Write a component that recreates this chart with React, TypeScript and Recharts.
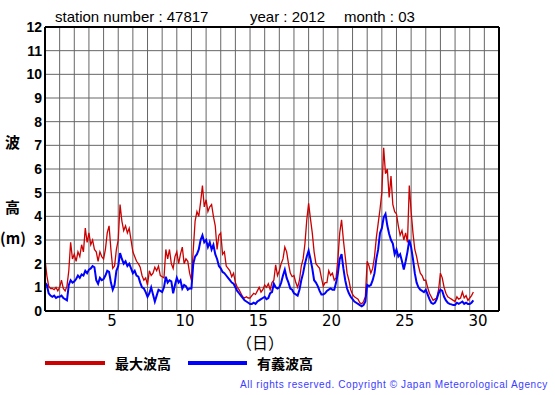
import React from 'react';
import { LineChart, Line, XAxis, YAxis, ReferenceLine } from 'recharts';

// 3-hourly readings starting on day 1 00:00 (8 values per day)
const maxWave: number[] = [
  2.2, 1.5, 1.05, 0.95, 0.95, 0.9, 1.0, 0.85,
  1.0, 1.3, 0.95, 0.85, 1.05, 1.7, 2.9, 2.2,
  2.4, 2.1, 2.5, 2.3, 2.8, 2.5, 3.5, 2.9,
  3.3, 2.8, 3.0, 2.6, 2.5, 2.1, 2.5, 2.3,
  2.2, 2.6, 3.3, 3.6, 2.6, 1.8, 1.9, 2.6,
  3.0, 4.5, 3.8, 3.4, 3.6, 3.3, 3.5, 3.0,
  2.5, 2.3, 2.1, 2.0, 1.85, 1.5, 1.3, 1.4,
  1.1, 1.7, 1.5, 1.6, 1.85, 1.7, 1.9, 1.5,
  1.45, 1.4, 2.6, 2.2, 2.6, 2.0, 1.8, 2.3,
  2.5, 2.0, 2.4, 2.7, 2.0, 2.2, 2.1, 1.6,
  1.3, 2.6, 3.8, 4.2, 4.0, 4.6, 5.3, 4.4,
  4.7, 4.2, 4.4, 4.5, 4.0, 3.6, 2.6, 3.2,
  3.3, 2.4, 2.5, 1.9, 1.8, 1.7, 1.45, 1.6,
  1.2, 1.0, 0.9, 0.75, 0.6, 0.55, 0.6, 0.55,
  0.55, 0.65, 0.75, 0.7, 0.85, 1.0, 0.8, 0.9,
  1.1, 1.0, 1.15, 0.9, 1.2, 1.3, 1.95, 1.5,
  1.7, 2.0, 2.2, 2.7, 2.5, 2.0, 1.6, 1.45,
  1.5, 1.2, 1.0, 1.3, 1.9, 2.2, 2.85, 3.85,
  4.55, 3.9, 3.3, 2.5, 2.0, 1.9, 1.8, 1.4,
  1.05, 1.2, 1.2, 1.7, 1.5, 1.6, 1.3, 1.4,
  2.2, 3.3, 3.85, 3.0, 2.3, 1.6, 1.3, 0.9,
  0.7, 0.6, 0.55, 0.5, 0.35, 0.3, 0.4, 0.6,
  2.1, 1.9, 1.6, 1.8, 2.3, 3.1, 3.7, 4.3,
  5.0, 6.9, 5.8, 6.0, 4.8, 5.7, 4.5, 4.2,
  4.1, 3.6, 3.2, 3.4, 3.0, 3.3, 2.9, 5.3,
  4.2, 3.3, 2.6, 2.3, 1.9, 1.6, 1.5, 1.3,
  1.3, 1.0, 0.75, 0.6, 0.45, 0.5, 0.55, 0.9,
  1.6, 1.4, 1.0, 0.75, 0.6, 0.55, 0.5, 0.45,
  0.4, 0.6, 0.5, 0.55, 0.8, 0.55, 0.65, 0.45,
  0.55, 0.65, 0.8,
];

const sigWave: number[] = [
  1.2, 1.1, 0.75, 0.65, 0.6, 0.65, 0.55, 0.6,
  0.6, 0.65, 0.55, 0.5, 0.45, 1.1, 1.3, 1.2,
  1.25, 1.35, 1.5, 1.4, 1.55, 1.5, 1.7, 1.6,
  1.75, 1.8, 1.9, 1.85, 1.3, 1.15, 1.4, 1.3,
  1.35, 1.5, 1.7, 1.65, 1.2, 0.9, 1.1, 1.7,
  1.9, 2.45, 2.2, 2.0, 2.1, 1.9, 2.0, 1.8,
  1.6, 1.7, 1.5, 1.45, 1.2, 1.0, 0.95, 0.8,
  0.6, 0.75, 1.0, 0.7, 0.4, 0.65, 0.9, 0.85,
  0.8, 1.0, 1.45, 1.2, 1.3, 1.25, 0.75, 1.1,
  1.4, 1.2, 1.3, 0.95, 1.1, 1.05, 0.9, 0.95,
  0.95, 2.0, 2.3, 2.4, 2.6, 3.0, 3.2, 2.9,
  3.0, 2.7, 2.9, 2.6, 2.8, 2.4, 2.2, 1.9,
  1.8, 1.65, 1.6, 1.5, 1.4, 1.3, 1.2, 1.15,
  1.0, 0.85, 0.75, 0.65, 0.55, 0.45, 0.4, 0.35,
  0.3, 0.3, 0.35, 0.3, 0.4, 0.45, 0.5, 0.55,
  0.6, 0.5, 0.55, 0.75, 0.8, 1.15, 1.0, 0.95,
  1.0, 1.2, 1.5, 1.75, 1.4, 1.2, 0.95, 0.9,
  0.75, 0.7, 0.65, 0.9, 1.3, 1.6, 2.0, 2.3,
  2.55, 2.2, 1.8, 1.3, 1.2, 1.05, 0.85, 0.7,
  0.7, 0.75, 0.85, 0.9, 0.95, 0.9, 0.9, 1.2,
  1.6, 2.2, 2.4, 1.8, 1.3, 0.95, 0.75, 0.6,
  0.5, 0.4, 0.35, 0.3, 0.25, 0.2, 0.25, 0.4,
  1.1, 1.05, 1.1, 1.3, 1.6, 2.2, 2.6, 3.3,
  3.5, 3.95, 4.1, 3.6, 3.25, 3.0, 2.85, 2.4,
  2.6, 2.3, 2.4, 2.1, 1.75, 2.1, 2.5, 3.0,
  2.7, 2.2, 1.6, 1.2, 1.0, 0.9, 0.85, 0.8,
  0.9, 0.7, 0.5, 0.35, 0.3, 0.35, 0.5, 0.75,
  0.9, 0.85, 0.6, 0.45, 0.35, 0.3, 0.28, 0.25,
  0.25, 0.35, 0.3, 0.35, 0.4, 0.3, 0.35, 0.3,
  0.3, 0.35, 0.45,
];

const stepsPerDay = 8;
const dayLabels = [5, 10, 15, 20, 25, 30];
const yTicks = [0, 1, 2, 3, 4, 5, 6, 7, 8, 9, 10, 11, 12];
const dayBoundaries = Array.from({ length: 32 }, (_, i) => i + 1);
const seriesNames = ['最大波高', '有義波高'];
const titleParts = ['station number : 47817', 'year : 2012', 'month : 03'];

const data = maxWave.map((v, i) => ({
  t: 1 + i / stepsPerDay,
  max: v,
  sig: sigWave[i],
}));

const sans = '"Liberation Sans", Arial, sans-serif';
const cjk = '"Noto Sans CJK JP", sans-serif';

const XTick = (props: any) => {
  const { x, y, payload } = props;
  return (
    <text x={x + 1} y={y + 13} textAnchor="middle" fontFamily='"DejaVu Sans", sans-serif' fontSize={15} fill="#000">
      {Math.floor(payload.value)}
    </text>
  );
};

const YTick = (props: any) => {
  const { x, y, payload } = props;
  return (
    <text x={x} y={y + 5} textAnchor="end" fontFamily={sans} fontWeight="bold" fontSize={14} fill="#000">
      {payload.value}
    </text>
  );
};

const abs = (left: number, top: number, extra: React.CSSProperties = {}): React.CSSProperties => ({
  position: 'absolute',
  left,
  top,
  whiteSpace: 'nowrap',
  lineHeight: 1,
  ...extra,
});

export default function App() {
  return (
    <div style={{ position: 'absolute', left: 0, top: 0, width: 555, height: 395, background: '#fff', fontFamily: sans, overflow: 'hidden' }}>
      <LineChart width={555} height={395} data={data} margin={{ top: 27, right: 56, left: 0, bottom: 0 }}>
        <XAxis
          dataKey="t"
          type="number"
          domain={[1, 32]}
          ticks={dayLabels.map((d) => d + 0.5)}
          tick={<XTick />}
          axisLine={false}
          tickLine={false}
          tickSize={0}
          height={84}
          allowDataOverflow
        />
        <YAxis
          type="number"
          domain={[0, 12]}
          ticks={yTicks}
          tick={<YTick />}
          axisLine={false}
          tickLine={false}
          tickSize={0}
          tickMargin={3}
          width={45}
          interval={0}
        />
        {dayBoundaries.map((d) => (
          <ReferenceLine key={'v' + d} x={d} stroke="#666" strokeWidth={1} />
        ))}
        {yTicks.map((v) => (
          <ReferenceLine key={'h' + v} y={v} stroke="#666" strokeWidth={1} />
        ))}
        <Line dataKey="max" type="linear" stroke="#cc0000" strokeWidth={1.3} dot={false} isAnimationActive={false} />
        <Line dataKey="sig" type="linear" stroke="#0000ff" strokeWidth={2} dot={false} isAnimationActive={false} />
        <ReferenceLine x={1} stroke="#000" strokeWidth={2} />
        <ReferenceLine x={32} stroke="#000" strokeWidth={2} />
        <ReferenceLine y={0} stroke="#000" strokeWidth={2} />
        <ReferenceLine y={12} stroke="#000" strokeWidth={2} />
      </LineChart>

      <div style={abs(55, 9, { fontSize: 15 })}>{titleParts[0]}</div>
      <div style={abs(250, 9, { fontSize: 15 })}>{titleParts[1]}</div>
      <div style={abs(344, 9, { fontSize: 15 })}>{titleParts[2]}</div>

      <div style={abs(5, 134, { fontSize: 15, fontWeight: 'bold', fontFamily: cjk })}>波</div>
      <div style={abs(5, 199, { fontSize: 15, fontWeight: 'bold', fontFamily: cjk })}>高</div>
      <div style={abs(0, 230, { fontSize: 15, fontWeight: 'bold', fontFamily: cjk })}>(m)</div>

      <div style={abs(236, 334, { fontSize: 16, fontFamily: cjk })}>（日）</div>

      <div style={abs(45, 361, { width: 60, height: 4, background: '#cc0000' })} />
      <div style={abs(115, 356, { fontSize: 14, fontWeight: 'bold', fontFamily: cjk })}>{seriesNames[0]}</div>
      <div style={abs(188, 361, { width: 59, height: 4, background: '#0000ff' })} />
      <div style={abs(257, 356, { fontSize: 14, fontWeight: 'bold', fontFamily: cjk })}>{seriesNames[1]}</div>

      <div style={abs(240, 380, { fontSize: 10, letterSpacing: 0.6, color: '#3b3bff', fontFamily: sans })}>
        All rights reserved. Copyright © Japan Meteorological Agency
      </div>
    </div>
  );
}
